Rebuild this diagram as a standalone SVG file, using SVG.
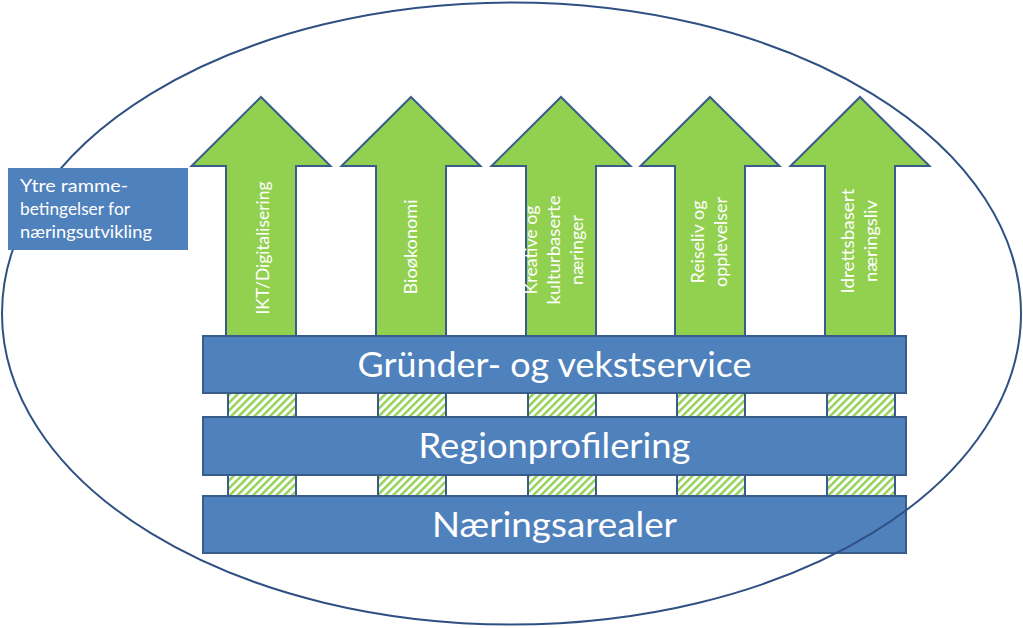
<svg xmlns="http://www.w3.org/2000/svg" width="1023" height="628" viewBox="0 0 1023 628">
<style>
.arrow{fill:#92D050;stroke:#385D8A;stroke-width:2;stroke-linejoin:miter}
.bar{fill:#4F81BD;stroke:#385D8A;stroke-width:2}
.hatch{fill:url(#stripes);stroke:#385D8A;stroke-width:2}
.vt{font-family:Lato,"Open Sans",sans-serif;font-size:17px;fill:#ffffff;text-anchor:middle}
.bt{font-family:Lato,"Open Sans",sans-serif;font-size:34px;fill:#ffffff;text-anchor:middle}
.lt{font-family:Lato,"Open Sans",sans-serif;font-size:18px;fill:#ffffff}
</style>
<defs>
<pattern id="stripes" patternUnits="userSpaceOnUse" width="5.5" height="5.5" patternTransform="rotate(45)">
<rect x="0" y="0" width="5.5" height="5.5" fill="#ffffff"/>
<rect x="0" y="0" width="2.4" height="5.5" fill="#92D050"/>
</pattern>
</defs>
<rect width="1023" height="628" fill="#ffffff"/>

<g id="arrow-ikt">
<polygon class="arrow" points="261,97 330.5,166 296,166 296,338 226,338 226,166 191.5,166"/>
<text class="vt" transform="translate(269,248) rotate(-90)" textLength="133" lengthAdjust="spacingAndGlyphs">IKT/Digitalisering</text>
</g>
<g id="arrow-bio">
<polygon class="arrow" points="411,97 480.5,166 446,166 446,338 376,338 376,166 341.5,166"/>
<text class="vt" transform="translate(417,247) rotate(-90)" textLength="95" lengthAdjust="spacingAndGlyphs">Bioøkonomi</text>
</g>
<g id="arrow-kreative">
<polygon class="arrow" points="561,97 630.5,166 596,166 596,338 526,338 526,166 491.5,166"/>
<text class="vt" transform="translate(537,250) rotate(-90)" textLength="89" lengthAdjust="spacingAndGlyphs">Kreative og</text>
<text class="vt" transform="translate(560,250) rotate(-90)" textLength="109" lengthAdjust="spacingAndGlyphs">kulturbaserte</text>
<text class="vt" transform="translate(583,250) rotate(-90)" textLength="70" lengthAdjust="spacingAndGlyphs">næringer</text>
</g>
<g id="arrow-reiseliv">
<polygon class="arrow" points="710,97 779.5,166 745,166 745,338 675,338 675,166 640.5,166"/>
<text class="vt" transform="translate(704,242) rotate(-90)" textLength="83" lengthAdjust="spacingAndGlyphs">Reiseliv og</text>
<text class="vt" transform="translate(727,242) rotate(-90)" textLength="90" lengthAdjust="spacingAndGlyphs">opplevelser</text>
</g>
<g id="arrow-idrett">
<polygon class="arrow" points="860,97 929.5,166 895,166 895,338 825,338 825,166 790.5,166"/>
<text class="vt" transform="translate(854,241) rotate(-90)" textLength="105" lengthAdjust="spacingAndGlyphs">Idrettsbasert</text>
<text class="vt" transform="translate(877,241) rotate(-90)" textLength="82" lengthAdjust="spacingAndGlyphs">næringsliv</text>
</g>

<g id="hatch-row-1">
<rect class="hatch" x="228" y="393" width="68" height="24"/>
<rect class="hatch" x="378" y="393" width="68" height="24"/>
<rect class="hatch" x="528" y="393" width="68" height="24"/>
<rect class="hatch" x="677" y="393" width="68" height="24"/>
<rect class="hatch" x="827" y="393" width="68" height="24"/>
</g>
<g id="hatch-row-2">
<rect class="hatch" x="228" y="475" width="68" height="21"/>
<rect class="hatch" x="378" y="475" width="68" height="21"/>
<rect class="hatch" x="528" y="475" width="68" height="21"/>
<rect class="hatch" x="677" y="475" width="68" height="21"/>
<rect class="hatch" x="827" y="475" width="68" height="21"/>
</g>

<g id="bar-grunder">
<rect class="bar" x="203" y="336" width="703" height="57"/>
<text class="bt" x="554.5" y="377" textLength="394" lengthAdjust="spacingAndGlyphs">Gründer- og vekstservice</text>
</g>
<g id="bar-region">
<rect class="bar" x="203" y="417" width="703" height="58"/>
<text class="bt" x="554.5" y="458" textLength="272" lengthAdjust="spacingAndGlyphs">Regionprofilering</text>
</g>
<g id="bar-naering">
<rect class="bar" x="203" y="496" width="703" height="57"/>
<text class="bt" x="554.5" y="537" textLength="245" lengthAdjust="spacingAndGlyphs">Næringsarealer</text>
</g>

<g id="frame-ellipse">
<ellipse cx="511.5" cy="313.5" rx="509.5" ry="311" fill="none" stroke="#2F5083" stroke-width="2"/>
</g>

<g id="label-ytre">
<rect x="8" y="168" width="180" height="82" fill="#4F81BD"/>
<text class="lt" x="20" y="192" textLength="108" lengthAdjust="spacingAndGlyphs">Ytre ramme-</text>
<text class="lt" x="20" y="215" textLength="110" lengthAdjust="spacingAndGlyphs">betingelser for</text>
<text class="lt" x="20" y="238" textLength="132" lengthAdjust="spacingAndGlyphs">næringsutvikling</text>
</g>
</svg>
